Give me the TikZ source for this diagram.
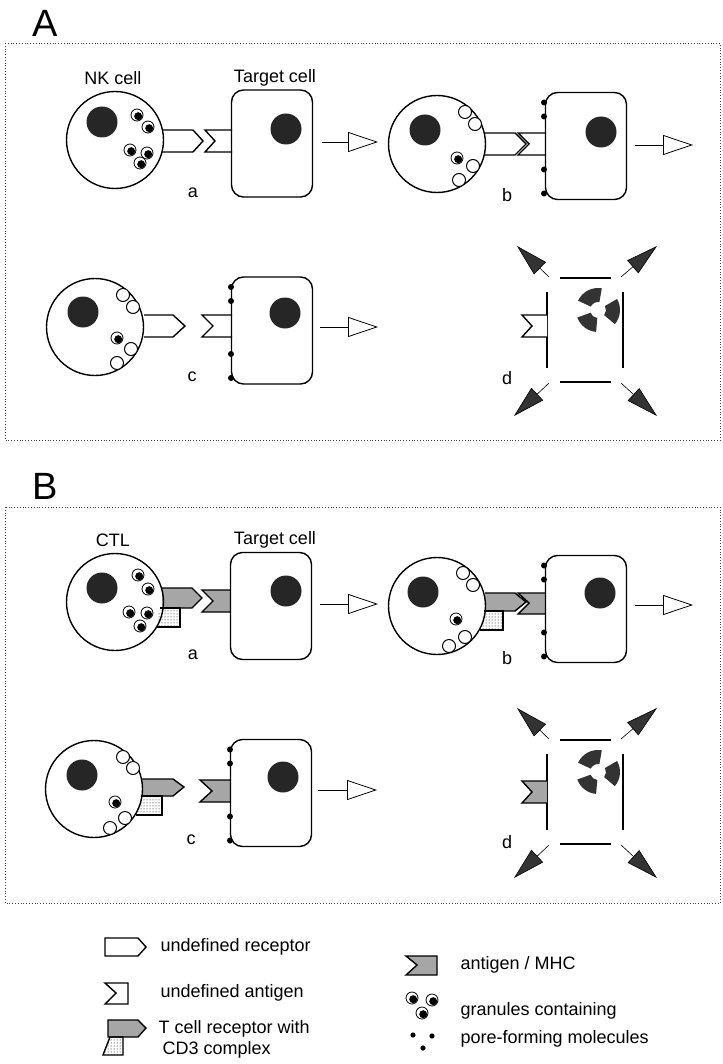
\documentclass[tikz,border=0pt]{standalone}
\usepackage{fontspec}
\setmainfont{Liberation Sans}
\usetikzlibrary{arrows.meta,patterns,positioning}

\tikzset{
  cellline/.style={line width=1.4pt},
  killer/.style={circle, draw, cellline, inner sep=0pt, minimum size=97pt},
  targetcell/.style={rectangle, draw, cellline, rounded corners=12pt, inner sep=0pt,
    minimum width=81pt, minimum height=107pt},
  nucleus/.style={circle, fill=black!85, inner sep=0pt, minimum size=31pt},
  stagearrow/.style={line width=0.8pt, -{Triangle[open, length=30pt, width=20pt]}},
  burst/.style={line width=0.6pt, -{Triangle[length=32pt, width=17pt, fill=black!80]}},
  wall/.style={line width=2pt},
  tcr/.style={cellline, fill=black!35},
  cdthree/.style={cellline, pattern=dots},
  frame/.style={dotted, line width=0.8pt, black!75},
  granule/.pic={\draw[fill=white, line width=0.8pt] (0,0) circle (6pt);
    \fill[black] (1.2pt,-1.2pt) circle (4pt);},
  vesicle/.pic={\draw[fill=white, line width=1pt] (0,0) circle (6.5pt);},
}

\begin{document}
\begin{tikzpicture}[x=1pt, y=-1pt, every node/.style={font=\fontsize{18}{21}\selectfont}]
\useasboundingbox (0,0) rectangle (722,1064);

% ---------------- A ----------------
\node (letA) at (45,23) {\fontsize{38}{40}\selectfont A};
\draw[frame] (5,43) rectangle (720,440);
\node (nkname) at (113,78) {NK cell};
\node (tname1) at (275,78) {Target cell};

% a
\draw[fill=white, cellline] (162,130) -- (193,130) -- (203,141) -- (193,152) -- (162,152);
\draw[fill=white, cellline] (232,130) -- (205,130) -- (215,141) -- (205,152) -- (232,152);
\node[killer] (nka) at (115,140) {};
\node[nucleus] (nkna) at (102,122) {};
\foreach \gx/\gy in {137/115, 148/127, 130/150, 147/153, 140/163}
  \pic at (\gx,\gy) {granule};
\node[targetcell] (tga) at (272,143.5) {};
\node[nucleus] (tgna) at (286,129) {};
\node (stga) at (193,193) {a};
\coordinate (s1a) at (322,142);
\coordinate (s1b) at (378,142);
\draw[stagearrow] (s1a) -- (s1b);

% b
\draw[fill=white, cellline] (485,133) -- (515,133) -- (526,144) -- (515,155) -- (485,155);
\draw[fill=white, cellline] (545,133) -- (518,133) -- (529,144) -- (518,155) -- (545,155);
\node[killer] (nkb) at (437,144) {};
\node[nucleus] (nknb) at (425,130) {};
\foreach \gx/\gy in {465/112, 475/124, 473/166, 459/180}
  \pic at (\gx,\gy) {vesicle};
\pic at (457,158) {granule};
\node[targetcell] (tgb) at (586,146) {};
\node[nucleus] (tgnb) at (601,132) {};
\foreach \d in {-43.5,-29.5,23.5,47.5}
  \fill (544,146+\d) circle (3pt);
\node (stgb) at (507,195) {b};
\coordinate (s2a) at (635,145);
\coordinate (s2b) at (693,145);
\draw[stagearrow] (s2a) -- (s2b);

% c
\draw[fill=white, cellline] (144,315) -- (173,315) -- (185,326) -- (173,337) -- (144,337);
\draw[fill=white, cellline] (232,315) -- (202,315) -- (213,326) -- (202,337) -- (232,337);
\node[killer] (nkc) at (95,327) {};
\node[nucleus] (nknc) at (83,312) {};
\foreach \gx/\gy in {123/295, 133/307, 131/349, 117/363}
  \pic at (\gx,\gy) {vesicle};
\pic at (117,338) {granule};
\node[targetcell] (tgc) at (272,330.5) {};
\node[nucleus] (tgnc) at (285,313) {};
\foreach \d in {-43.5,-29.5,23.5,47.5}
  \fill (231,330.5+\d) circle (3pt);
\node (stgc) at (192,377) {c};
\coordinate (s3a) at (320,327);
\coordinate (s3b) at (378,327);
\draw[stagearrow] (s3a) -- (s3b);

% d
\draw[wall] (547,292) -- (547,368);
\draw[wall] (623,292) -- (623,368);
\draw[wall] (560,278) -- (611,278);
\draw[wall] (560,382) -- (611,382);
\draw[fill=white, cellline] (547,315) -- (522,315) -- (532,326) -- (522,337) -- (547,337);
\foreach \a/\b in {80/155, -40/30, 200/265}
  \fill[black!80, shift={(598,310)}] (\a:22pt) arc[start angle=\a, end angle=\b, radius=22pt]
    -- (\b:8pt) arc[start angle=\b, end angle=\a, radius=8pt] -- cycle;
\draw[burst] (549,277) -- (517,246);
\draw[burst] (621,277) -- (657,246);
\draw[burst] (549,383) -- (514,416);
\draw[burst] (621,383) -- (657,416);
\node (stgd) at (507,378) {d};

% ---------------- B ----------------
\node (letB) at (45,486) {\fontsize{38}{40}\selectfont B};
\draw[frame] (5,507) rectangle (720,903);
\node (ctlname) at (113,540) {CTL};
\node (tname2) at (275,540) {Target cell};

% a
\draw[tcr] (162,588) -- (192,588) -- (202,598) -- (192,608) -- (162,608);
\draw[cdthree] (160,608) -- (180,608) -- (180,627) -- (156,627);
\draw[tcr] (230,590) -- (202,590) -- (213,601) -- (202,612) -- (230,612);
\node[killer] (ctla) at (115,602) {};
\node[nucleus] (ctlna) at (102,588) {};
\foreach \gx/\gy in {138/575, 148/589, 129/612, 147/613, 140/626}
  \pic at (\gx,\gy) {granule};
\node[targetcell] (tgd) at (271,606) {};
\node[nucleus] (tgnd) at (286,591) {};
\node (stge) at (193,655) {a};
\coordinate (s4a) at (320,604);
\coordinate (s4b) at (378,604);
\draw[stagearrow] (s4a) -- (s4b);

% b
\draw[tcr] (485,593) -- (515,593) -- (526,602) -- (515,611) -- (485,611);
\draw[cdthree] (484,611) -- (503,611) -- (503,630) -- (480,630);
\draw[tcr] (545,593) -- (518,593) -- (529,603) -- (518,614) -- (545,614);
\node[killer] (ctlb) at (437,606) {};
\node[nucleus] (ctlnb) at (423,592) {};
\foreach \gx/\gy in {463/573, 473/585, 465/637, 449/646}
  \pic at (\gx,\gy) {vesicle};
\pic at (456,619) {granule};
\node[targetcell] (tge) at (586,609) {};
\node[nucleus] (tgne) at (600,593) {};
\foreach \d in {-43.5,-29.5,23.5,47.5}
  \fill (544,609+\d) circle (3pt);
\node (stgf) at (507,658) {b};
\coordinate (s5a) at (635,605);
\coordinate (s5b) at (693,605);
\draw[stagearrow] (s5a) -- (s5b);

% c
\draw[tcr] (142,779) -- (173,779) -- (184,787) -- (173,796) -- (142,796);
\draw[cdthree] (141,796) -- (162,796) -- (162,815) -- (136,815);
\draw[tcr] (230,780) -- (200,780) -- (212,791) -- (200,802) -- (230,802);
\node[killer] (ctlc) at (94,789) {};
\node[nucleus] (ctlnc) at (82,775) {};
\foreach \gx/\gy in {123/757, 133/768, 125/818, 110/828}
  \pic at (\gx,\gy) {vesicle};
\pic at (115,802) {granule};
\node[targetcell] (tgf) at (271,793) {};
\node[nucleus] (tgnf) at (283,777) {};
\foreach \d in {-43.5,-29.5,23.5,47.5}
  \fill (230,793+\d) circle (3pt);
\node (stgg) at (191,840) {c};
\coordinate (s6a) at (318,790);
\coordinate (s6b) at (377,790);
\draw[stagearrow] (s6a) -- (s6b);

% d
\draw[wall] (547,754) -- (547,830);
\draw[wall] (623,754) -- (623,830);
\draw[wall] (560,740) -- (611,740);
\draw[wall] (560,844) -- (611,844);
\draw[tcr] (547,781) -- (522,781) -- (532,792) -- (522,803) -- (547,803);
\foreach \a/\b in {80/155, -40/30, 200/265}
  \fill[black!80, shift={(598,772)}] (\a:22pt) arc[start angle=\a, end angle=\b, radius=22pt]
    -- (\b:8pt) arc[start angle=\b, end angle=\a, radius=8pt] -- cycle;
\draw[burst] (549,739) -- (517,708);
\draw[burst] (621,739) -- (657,708);
\draw[burst] (549,845) -- (514,878);
\draw[burst] (621,845) -- (657,878);
\node (stgh) at (507,842) {d};

% ---------------- legend ----------------
\draw[cellline] (105,938) -- (138,938) -- (146,947) -- (138,956) -- (105,956) -- cycle;
\node[anchor=west] (lgrec) at (157,947) {undefined receptor};
\draw[cellline] (128,983) -- (105,983) -- (116,993) -- (105,1004) -- (128,1004) -- cycle;
\node[anchor=west] (lgant) at (157,993) {undefined antigen};
\draw[tcr] (108,1020) -- (138,1020) -- (146,1028) -- (138,1037) -- (108,1037) -- cycle;
\draw[cdthree] (110,1037) -- (123,1037) -- (123,1055) -- (103,1055) -- cycle;
\node[anchor=west] (lgtcr) at (155,1029) {T cell receptor with};
\node[anchor=west] (lgcd) at (159,1050) {CD3 complex};
\draw[tcr] (437,956) -- (406,956) -- (417,965) -- (406,975) -- (437,975) -- cycle;
\node[anchor=west] (lgmhc) at (457,965) {antigen / MHC};
\foreach \gx/\gy in {412/998, 432/1000, 422/1013}
  \pic at (\gx,\gy) {granule};
\node[anchor=west] (lggr) at (457,1011) {granules containing};
\foreach \gx/\gy in {413/1035, 432/1036, 423/1048}
  \fill (\gx,\gy) circle (2.6pt);
\node[anchor=west] (lgpore) at (457,1039) {pore-forming molecules};
\end{tikzpicture}
\end{document}
